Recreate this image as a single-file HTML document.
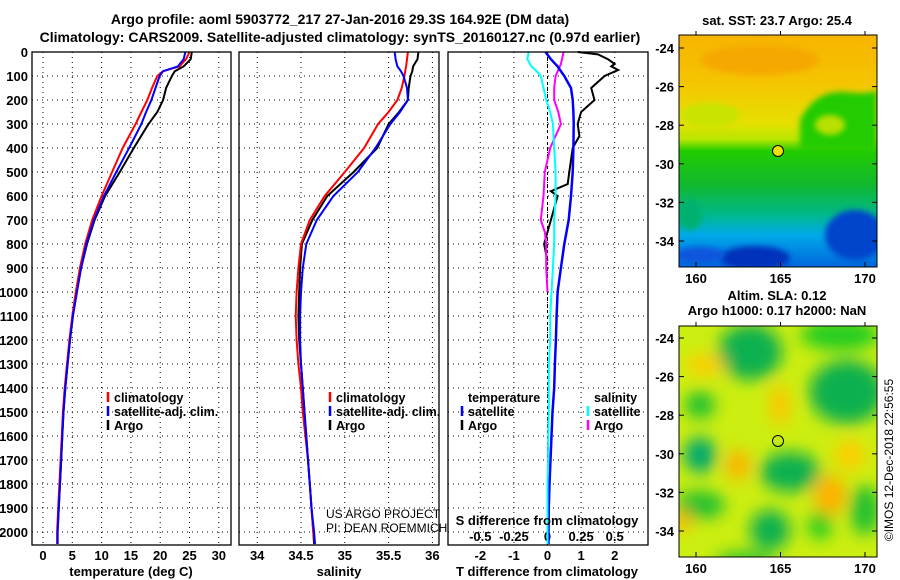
<!DOCTYPE html>
<html><head><meta charset="utf-8"><style>
html,body{margin:0;padding:0;background:#fff;}
svg{display:block;font-family:"Liberation Sans",sans-serif;}
</style></head><body>
<svg id="c" width="900" height="580" viewBox="0 0 900 580">
<defs>
<filter id="bl" x="-50%" y="-50%" width="200%" height="200%"><feGaussianBlur stdDeviation="8"/></filter>
<filter id="bl2" x="-50%" y="-50%" width="200%" height="200%"><feGaussianBlur stdDeviation="3"/></filter>
<clipPath id="m1"><rect x="679" y="35" width="198" height="232"/></clipPath>
<clipPath id="m2"><rect x="679" y="326" width="198" height="231"/></clipPath>
<linearGradient id="g1" x1="0" y1="0" x2="0" y2="1">
<stop offset="0" stop-color="#f7b400"/><stop offset="0.2" stop-color="#f5c400"/><stop offset="0.38" stop-color="#e6e000"/><stop offset="0.45" stop-color="#b8e600"/><stop offset="0.5" stop-color="#22cc00"/><stop offset="0.65" stop-color="#10b830"/><stop offset="0.78" stop-color="#00b890"/><stop offset="0.86" stop-color="#00aae8"/><stop offset="1" stop-color="#0066dd"/>
</linearGradient>
</defs>
<g id="text" font-size="14">
<text x="340" y="24" text-anchor="middle" font-weight="bold">Argo profile: aoml 5903772_217 27-Jan-2016 29.3S 164.92E (DM data)</text>
<text x="340" y="42" text-anchor="middle" font-weight="bold">Climatology: CARS2009. Satellite-adjusted climatology: synTS_20160127.nc (0.97d earlier)</text>
</g>
<g id="plots"></g>
<g id="maps">
<text x="777" y="25" text-anchor="middle" font-size="13" font-weight="bold">sat. SST: 23.7 Argo: 25.4</text>
<g clip-path="url(#m1)">
<rect x="679" y="35" width="198" height="232" fill="url(#g1)"/>
<path d="M800 120 Q815 90 845 92 Q870 95 877 90 L877 150 L800 150 Z" fill="#22cc00" filter="url(#bl2)"/>
<ellipse cx="830" cy="125" rx="15" ry="10" fill="#b8e000" filter="url(#bl2)"/>
<ellipse cx="710" cy="115" rx="30" ry="12" fill="#c8e400" filter="url(#bl2)"/>
<ellipse cx="760" cy="60" rx="60" ry="15" fill="#f5a800" filter="url(#bl2)"/>
<ellipse cx="855" cy="235" rx="30" ry="25" fill="#0044cc" filter="url(#bl2)"/>
<ellipse cx="755" cy="258" rx="35" ry="12" fill="#0033bb" filter="url(#bl2)"/>
<ellipse cx="700" cy="255" rx="25" ry="8" fill="#1155dd" filter="url(#bl2)"/>
<ellipse cx="690" cy="215" rx="12" ry="15" fill="#00b070" filter="url(#bl2)"/>
</g>
<rect x="679" y="35" width="198" height="232" fill="none" stroke="#000"/>
<circle cx="778" cy="151" r="5.5" fill="#f0e000" stroke="#000"/>
<text x="777" y="300" text-anchor="middle" font-size="13" font-weight="bold">Altim. SLA: 0.12</text>
<text x="777" y="315" text-anchor="middle" font-size="13" font-weight="bold">Argo h1000: 0.17 h2000: NaN</text>
<g clip-path="url(#m2)">
<rect x="679" y="326" width="198" height="231" fill="#ccee10"/>
<g filter="url(#bl)">
<ellipse cx="750" cy="352" rx="32" ry="28" fill="#10b050"/>
<ellipse cx="840" cy="335" rx="40" ry="15" fill="#22cc22"/>
<ellipse cx="847" cy="392" rx="38" ry="32" fill="#10b050"/>
<ellipse cx="700" cy="405" rx="15" ry="14" fill="#22c030"/>
<ellipse cx="700" cy="455" rx="16" ry="18" fill="#00a870"/>
<ellipse cx="790" cy="472" rx="30" ry="20" fill="#10b050"/>
<ellipse cx="700" cy="505" rx="25" ry="14" fill="#22c030"/>
<ellipse cx="770" cy="530" rx="20" ry="20" fill="#10b050"/>
<ellipse cx="820" cy="525" rx="12" ry="15" fill="#22cc22"/>
<ellipse cx="865" cy="510" rx="15" ry="25" fill="#22c030"/>
<ellipse cx="745" cy="560" rx="30" ry="8" fill="#22c030"/>
<ellipse cx="738" cy="465" rx="12" ry="15" fill="#ffb000"/>
<ellipse cx="830" cy="495" rx="16" ry="20" fill="#ffb000"/>
<ellipse cx="683" cy="520" rx="8" ry="10" fill="#ffa800"/>
<ellipse cx="780" cy="405" rx="10" ry="20" fill="#ffc400"/>
<ellipse cx="705" cy="365" rx="20" ry="10" fill="#ffcc00"/>
<ellipse cx="850" cy="455" rx="15" ry="15" fill="#ffcc00"/>
</g>
</g>
<rect x="679" y="326" width="198" height="231" fill="none" stroke="#000"/>
<circle cx="778" cy="441" r="5.5" fill="none" stroke="#000"/>
<text transform="translate(893,460) rotate(-90)" text-anchor="middle" font-size="12">©IMOS 12-Dec-2018 22:56:55</text>
</g>
</svg>
<script>
// ---- data ----
const depthT = [0,30,60,80,100,150,200,250,300,400,500,600,700,800,900,1000,1100,1200,1300,1400,1500,1600,1700,1800,1900,2000,2050];
const tempClim = [25,24.4,23.3,20.5,19.5,18.6,17.8,16.8,15.8,13.6,11.8,10,8.4,7.2,6.3,5.6,5.0,4.5,4.1,3.7,3.4,3.2,3.0,2.8,2.6,2.4,2.4];
const tempSat  = [24.3,24.0,23.0,20.5,19.9,19.2,18.5,17.6,16.8,14.7,12.5,10.4,8.7,7.4,6.5,5.8,5.1,4.6,4.2,3.8,3.5,3.3,3.1,2.9,2.7,2.5,2.5];
const tempArgo = [25.4,25.2,24.0,22.5,22,21,20.5,19.5,18,15.5,13.1,10.6,8.8,7.5,6.5,5.7,5.1,4.6,4.2,3.8,3.5,3.3,3.1,2.9,2.7,2.5,2.5];
const salClim = [35.72,35.71,35.70,35.69,35.68,35.65,35.60,35.50,35.38,35.22,35.00,34.77,34.60,34.50,34.47,34.45,34.44,34.45,34.47,34.50,34.52,34.55,34.58,34.60,34.62,34.64,34.66];
const salSat  = [35.57,35.58,35.60,35.64,35.67,35.71,35.72,35.63,35.52,35.35,35.15,34.87,34.68,34.56,34.52,34.50,34.49,34.49,34.50,34.52,34.54,34.56,34.58,34.60,34.62,34.65,34.66];
const salArgo = [35.84,35.83,35.78,35.77,35.75,35.73,35.72,35.62,35.50,35.37,35.10,34.80,34.63,34.51,34.49,34.48,34.47,34.48,34.50,34.52,34.54,34.56,34.58,34.60,34.62,34.64,34.65];
const dTSat  = [-0.06,0.1,0.3,0.4,0.5,0.7,0.75,0.77,0.78,0.77,0.75,0.7,0.63,0.5,0.4,0.3,0.27,0.25,0.22,0.2,0.15,0.12,0.09,0.06,0.04,0.03,0.03];
const depthA = [0,10,30,50,60,75,100,150,200,250,300,350,400,500,550,580,600,700,800,870];
const dTArgo = [0.9,1.5,1.8,2.0,1.9,2.1,1.7,1.3,1.4,1.0,0.9,0.95,0.75,0.65,0.6,0.1,0.3,0.1,-0.1,0.0];
const dSSat  = [-0.14,-0.15,-0.12,-0.08,-0.05,-0.03,-0.01,0.02,0.04,0.05,0.06,0.06,0.05,0.05,0.04,0.03,0.02,0.02,0.01,0.01,0.01,0.005,0.005,0.0,0.0,0.0,0.0];
const depthSA = [0,50,100,150,200,250,300,350,400,500,600,700,750,800,900,1000];
const dSArgo = [0.12,0.1,0.06,0.05,0.05,0.08,0.1,0.06,0.02,-0.02,-0.03,-0.05,-0.02,-0.01,-0.01,0.0];
const tTicks = [0,5,10,15,20,25,30];
const sTicks = [34,34.5,35,35.5,36];
const dTicks = [-2,-1,0,1,2];
const dSTicks = [-0.5,-0.25,0,0.25,0.5];
const dSTickLabels = ['-0.5','-0.25','0','0.25','0.5'];
const depthTicks = [0,100,200,300,400,500,600,700,800,900,1000,1100,1200,1300,1400,1500,1600,1700,1800,1900,2000];

// ---- axes ----
const NS='http://www.w3.org/2000/svg';
const yD = d => 52 + d*0.24;
const xT = v => 43 + v*5.86;
const xS = v => 301 + (v-34.5)*87.6;
const xDT = v => 547.5 + v*33.6;
const xDS = v => 547.5 + v*134.4;
const root = document.getElementById('plots');
function mk(tag, attrs, parent){const e=document.createElementNS(NS,tag);for(const k in attrs)e.setAttribute(k,attrs[k]);(parent||root).appendChild(e);return e;}
function txt(x,y,s,attrs,parent){const e=mk('text',Object.assign({x:x,y:y},attrs||{}),parent);e.textContent=s;return e;}

const panels=[{x0:32,x1:231,name:'temperature'},{x0:239,x1:439,name:'salinity'},{x0:448,x1:648,name:'difference'}];
panels.forEach(p=>{
  const g=mk('g',{});
  
  
  depthTicks.forEach(d=>{ if(d>0){mk('line',{x1:p.x0,x2:p.x1,y1:yD(d),y2:yD(d),stroke:'#000','stroke-dasharray':'1,4','stroke-width':1},g);} });
  p.g=g;
});
function vgrid(p, ticks, fx, dash){ticks.forEach(v=>{mk('line',{x1:fx(v),x2:fx(v),y1:52,y2:545,stroke:'#000','stroke-dasharray':dash||'1,4','stroke-width':1},p.g);});}
vgrid(panels[0],tTicks,xT);
vgrid(panels[1],sTicks,xS);
vgrid(panels[2],dTicks,xDT);

depthTicks.forEach(d=>{
  const t=txt(28,yD(d)+5,String(d),{'text-anchor':'end','font-size':'13','font-weight':'bold'});
  
  
});
tTicks.forEach(v=>{const t=txt(xT(v),560,String(v),{'text-anchor':'middle','font-size':'13','font-weight':'bold'});
  
  });
sTicks.forEach(v=>{const t=txt(xS(v),560,String(v),{'text-anchor':'middle','font-size':'13','font-weight':'bold'});
  
  });
dTicks.forEach(v=>{const t=txt(xDT(v),560,String(v),{'text-anchor':'middle','font-size':'13','font-weight':'bold'});
  
  });
dSTicks.forEach((v,i)=>{const t=txt(xDS(v),541,dSTickLabels[i],{'text-anchor':'middle','font-size':'13','font-weight':'bold'});
  
  });

function line(xs, ds, fx, color, name, w){
  let pts=[];
  for(let i=0;i<xs.length;i++){pts.push(fx(xs[i]).toFixed(1)+','+yD(ds[i]).toFixed(1));}
  const e=mk('polyline',{points:pts.join(' '),fill:'none',stroke:color,'stroke-width':w||2});
  
  
}
line(tempArgo,depthT,xT,'#000','temp-argo-line');
line(tempClim,depthT,xT,'#ff0000','temp-climatology-line');
line(tempSat,depthT,xT,'#0000ff','temp-satellite-line');
line(salArgo,depthT,xS,'#000','sal-argo-line');
line(salClim,depthT,xS,'#ff0000','sal-climatology-line');
line(salSat,depthT,xS,'#0000ff','sal-satellite-line');
mk('line',{x1:xDT(0),x2:xDT(0),y1:52,y2:545,stroke:'#000','stroke-dasharray':'3,3'});
line(dTArgo,depthA,xDT,'#000','t-diff-argo-line');
line(dSArgo,depthSA,xDS,'#ff00ff','s-diff-argo-line');
line(dTSat,depthT,xDT,'#0000ff','t-diff-satellite-line',2.5);
line(dSSat,depthT,xDS,'#00ffff','s-diff-satellite-line');

panels.forEach(p=>{const r=mk('rect',{x:p.x0,y:52,width:p.x1-p.x0,height:493,fill:'none',stroke:'#000','stroke-width':1.3});
  
  });

[[131,'temperature (deg C)','temperature-axis-title'],[339,'salinity','salinity-axis-title'],[547,'T difference from climatology','t-diff-axis-title']].forEach(a=>{
  const t=txt(a[0],576,a[1],{'text-anchor':'middle','font-size':'13','font-weight':'bold'});
  
  
});
const sdt=txt(547,525,'S difference from climatology',{'text-anchor':'middle','font-size':'13','font-weight':'bold'});



function legend(x,y,items,name){
  const g=mk('g',{});
  
  
  items.forEach((it,i)=>{
    const yy=y+i*14;
    if(it[1]) mk('line',{x1:x,x2:x,y1:yy-10,y2:yy,stroke:it[1],'stroke-width':2.5},g);
    txt(x+6,yy,it[0],{'font-size':'12.5','font-weight':'bold'},g);
  });
}
legend(108,402,[['climatology','#ff0000'],['satellite-adj. clim.','#0000ff'],['Argo','#000']],'temperature-legend');
legend(330,402,[['climatology','#ff0000'],['satellite-adj. clim.','#0000ff'],['Argo','#000']],'salinity-legend');
legend(462,402,[['temperature',null],['satellite','#0000ff'],['Argo','#000']],'t-diff-legend');
legend(588,402,[['salinity',null],['satellite','#00ffff'],['Argo','#ff00ff']],'s-diff-legend');
const p1=txt(326,518,'US ARGO PROJECT',{'font-size':'12'});


const p2=txt(326,532,'PI: DEAN ROEMMICH',{'font-size':'12'});



const mg=document.getElementById('maps');
[[35,267,48],[326,557,338]].forEach((m,mi)=>{
  [-24,-26,-28,-30,-32,-34].forEach(lat=>{
    const y=m[2]+(-24-lat)*19.3;
    mk('line',{x1:679,x2:684,y1:y,y2:y,stroke:'#000'},mg);
    mk('line',{x1:872,x2:877,y1:y,y2:y,stroke:'#000'},mg);
    const t=txt(674,y+5,String(lat),{'text-anchor':'end','font-size':'13','font-weight':'bold'},mg);
    
    
  });
  [160,165,170].forEach(lon=>{
    const x=696+(lon-160)*16.9;
    mk('line',{x1:x,x2:x,y1:m[1]-5,y2:m[1],stroke:'#000'},mg);
    mk('line',{x1:x,x2:x,y1:m[0],y2:m[0]-4,stroke:'#000'},mg);
    const t=txt(x,m[1]+16,String(lon),{'text-anchor':'middle','font-size':'13','font-weight':'bold'},mg);
    
    
  });
});
</script>
</body></html>
